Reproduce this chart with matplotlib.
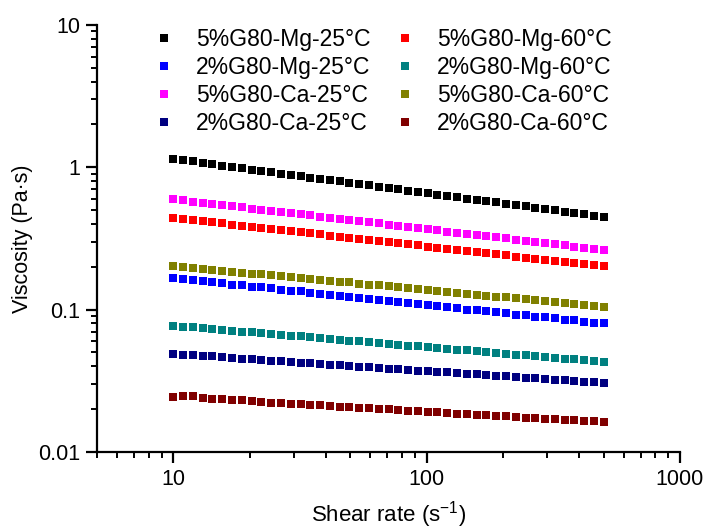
import matplotlib
matplotlib.use('Agg')
import matplotlib.pyplot as plt
from matplotlib.ticker import FuncFormatter, LogLocator

plt.rcParams['font.family'] = ['Liberation Sans', 'DejaVu Sans']
plt.rcParams['mathtext.fontset'] = 'custom'
plt.rcParams['mathtext.rm'] = 'Liberation Sans'
plt.rcParams['mathtext.it'] = 'Liberation Sans'

# shear rate (1/s)
shear_rate = [10.0, 10.93, 11.95, 13.06, 14.27, 15.60, 17.05, 18.64, 20.37, 22.26,
              24.33, 26.60, 29.07, 31.78, 34.73, 37.96, 41.49, 45.35, 49.57, 54.18,
              59.21, 64.72, 70.74, 77.32, 84.51, 92.37, 100.96, 110.35, 120.61, 131.83,
              144.09, 157.49, 172.14, 188.15, 205.65, 224.77, 245.67, 268.52, 293.49,
              320.79, 350.62, 383.23, 418.87, 457.82, 500.4]

mg5_25 = [1.140, 1.125, 1.100, 1.070, 1.047, 1.025, 1.004, 0.983, 0.962, 0.942,
          0.922, 0.903, 0.884, 0.865, 0.847, 0.829, 0.812, 0.795, 0.778, 0.762,
          0.746, 0.730, 0.715, 0.700, 0.685, 0.671, 0.657, 0.643, 0.629, 0.616,
          0.603, 0.590, 0.578, 0.566, 0.554, 0.542, 0.531, 0.520, 0.509, 0.498,
          0.488, 0.478, 0.467, 0.458, 0.448]
mg5_60 = [0.441, 0.433, 0.426, 0.418, 0.411, 0.403, 0.396, 0.389, 0.382, 0.376,
          0.369, 0.362, 0.356, 0.350, 0.344, 0.337, 0.331, 0.326, 0.320, 0.314,
          0.309, 0.303, 0.298, 0.293, 0.287, 0.282, 0.277, 0.272, 0.268, 0.263,
          0.258, 0.254, 0.249, 0.245, 0.240, 0.236, 0.232, 0.228, 0.224, 0.220,
          0.216, 0.212, 0.208, 0.205, 0.201]
mg2_25 = [0.166, 0.163, 0.161, 0.158, 0.155, 0.153, 0.150, 0.148, 0.145, 0.143,
          0.141, 0.138, 0.136, 0.134, 0.131, 0.129, 0.127, 0.125, 0.123, 0.121,
          0.119, 0.117, 0.115, 0.113, 0.111, 0.109, 0.107, 0.106, 0.104, 0.102,
          0.100, 0.099, 0.097, 0.096, 0.094, 0.092, 0.091, 0.089, 0.088, 0.087,
          0.085, 0.084, 0.082, 0.081, 0.080]
mg2_60 = [0.0769, 0.0759, 0.0749, 0.0739, 0.0729, 0.0719, 0.0710, 0.0700, 0.0691, 0.0682,
          0.0673, 0.0664, 0.0655, 0.0647, 0.0638, 0.0630, 0.0621, 0.0613, 0.0605, 0.0597,
          0.0589, 0.0581, 0.0574, 0.0566, 0.0559, 0.0551, 0.0544, 0.0537, 0.0530, 0.0523,
          0.0516, 0.0509, 0.0502, 0.0496, 0.0489, 0.0483, 0.0476, 0.0470, 0.0464, 0.0458,
          0.0452, 0.0446, 0.0440, 0.0434, 0.0428]
ca5_25 = [0.596, 0.585, 0.574, 0.563, 0.553, 0.543, 0.533, 0.523, 0.513, 0.504,
          0.494, 0.485, 0.476, 0.467, 0.459, 0.450, 0.442, 0.434, 0.426, 0.418,
          0.410, 0.403, 0.395, 0.388, 0.381, 0.374, 0.367, 0.360, 0.353, 0.347,
          0.340, 0.334, 0.328, 0.322, 0.316, 0.310, 0.304, 0.299, 0.293, 0.288,
          0.282, 0.277, 0.272, 0.267, 0.262]
ca5_60 = [0.202, 0.199, 0.196, 0.193, 0.190, 0.188, 0.185, 0.182, 0.179, 0.177,
          0.174, 0.172, 0.169, 0.167, 0.164, 0.162, 0.159, 0.157, 0.155, 0.152,
          0.150, 0.148, 0.146, 0.143, 0.141, 0.139, 0.137, 0.135, 0.133, 0.131,
          0.129, 0.127, 0.125, 0.123, 0.122, 0.120, 0.118, 0.116, 0.114, 0.113,
          0.111, 0.109, 0.108, 0.106, 0.105]
ca2_25 = [0.0487, 0.0482, 0.0479, 0.0474, 0.0468, 0.0462, 0.0457, 0.0452, 0.0447, 0.0442,
          0.0438, 0.0433, 0.0429, 0.0424, 0.0420, 0.0415, 0.0411, 0.0406, 0.0402, 0.0398,
          0.0394, 0.0389, 0.0385, 0.0381, 0.0377, 0.0373, 0.0369, 0.0366, 0.0362, 0.0358,
          0.0354, 0.0350, 0.0347, 0.0343, 0.0340, 0.0336, 0.0332, 0.0329, 0.0326, 0.0322,
          0.0319, 0.0315, 0.0312, 0.0309, 0.0305]
ca2_60 = [0.0244, 0.0245, 0.0245, 0.0240, 0.0237, 0.0234, 0.0232, 0.0230, 0.0226, 0.0225,
          0.0222, 0.0220, 0.0218, 0.0216, 0.0214, 0.0212, 0.0210, 0.0208, 0.0206, 0.0204,
          0.0202, 0.0201, 0.0199, 0.0197, 0.0195, 0.0193, 0.0191, 0.0190, 0.0188, 0.0186,
          0.0184, 0.0183, 0.0181, 0.0179, 0.0178, 0.0176, 0.0174, 0.0173, 0.0171, 0.0170,
          0.0168, 0.0167, 0.0165, 0.0164, 0.0162]

series = [
    ('5%G80-Mg-25°C', mg5_25, '#000000'),
    ('2%G80-Mg-25°C', mg2_25, '#0000FF'),
    ('5%G80-Ca-25°C', ca5_25, '#FF00FF'),
    ('2%G80-Ca-25°C', ca2_25, '#000080'),
    ('5%G80-Mg-60°C', mg5_60, '#FF0000'),
    ('2%G80-Mg-60°C', mg2_60, '#008080'),
    ('5%G80-Ca-60°C', ca5_60, '#808000'),
    ('2%G80-Ca-60°C', ca2_60, '#800000'),
]

fig = plt.figure(figsize=(7.09, 5.31), dpi=100)
ax = fig.add_axes([0.137, 0.149, 0.822, 0.804])

for name, vals, col in series:
    ax.plot(shear_rate, vals, ls='none', marker='s', ms=5.8, mew=0,
            color=col, label=name)

ax.set_xscale('log')
ax.set_yscale('log')
ax.set_xlim(5, 1000)
ax.set_ylim(0.01, 10)

fmt = FuncFormatter(lambda v, p: f'{v:g}')
ax.xaxis.set_major_formatter(fmt)
ax.yaxis.set_major_formatter(fmt)
ax.xaxis.set_minor_locator(LogLocator(base=10, subs=range(2, 10)))
ax.yaxis.set_minor_locator(LogLocator(base=10, subs=range(2, 10)))
ax.xaxis.set_minor_formatter(plt.NullFormatter())
ax.yaxis.set_minor_formatter(plt.NullFormatter())

for s in ('top', 'right'):
    ax.spines[s].set_visible(False)
for s in ('left', 'bottom'):
    ax.spines[s].set_linewidth(1.6)
ax.tick_params(which='major', direction='out', length=8, width=1.6,
               labelsize=15.5, pad=4)
ax.tick_params(which='minor', direction='out', length=4.5, width=1.4)

ax.set_xlabel('Shear rate (s$^{-1}$)', fontsize=16, labelpad=7)
ax.set_ylabel('Viscosity (Pa·s)', fontsize=15.5, labelpad=4)

ax.legend(loc='upper left', bbox_to_anchor=(0.059, 1.041), ncol=2,
          frameon=False, fontsize=16.5, handlelength=1.0, handletextpad=0.9,
          columnspacing=1.0, labelspacing=0.22, borderpad=0.4)

fig.savefig('out.png', dpi=100)
